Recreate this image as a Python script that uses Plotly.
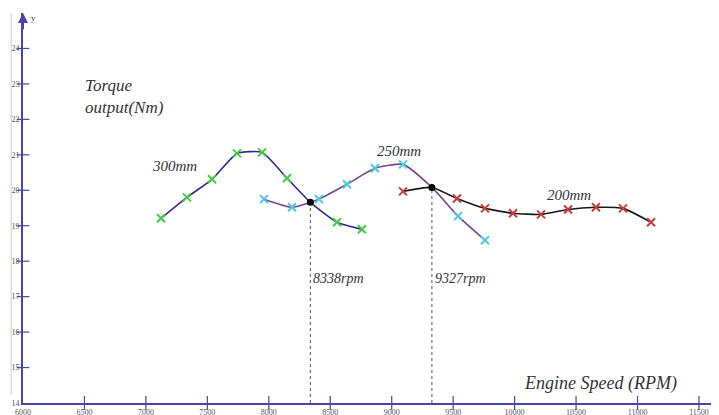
import plotly.graph_objects as go

# ---- data ----
rpm_300 = [7123, 7334, 7538, 7741, 7945, 8148, 8555, 8758]
tq_300 = [19.21, 19.80, 20.31, 21.04, 21.07, 20.34, 19.10, 18.90]

rpm_250 = [7961, 8189, 8408, 8636, 8864, 9092, 9540, 9759]
tq_250 = [19.75, 19.52, 19.75, 20.17, 20.62, 20.73, 19.27, 18.59]

rpm_200 = [9092, 9531, 9759, 9987, 10215, 10435, 10662, 10882, 11110]
tq_200 = [19.97, 19.77, 19.49, 19.35, 19.32, 19.46, 19.52, 19.49, 19.10]

cross_rpm = [8338, 9327]
cross_tq = [19.66, 20.08]
cross_labels = ["8338rpm", "9327rpm"]

x_ticks = [6000, 6500, 7000, 7500, 8000, 8500, 9000, 9500, 10000, 10500, 11000, 11500]
y_ticks = [14, 15, 16, 17, 18, 19, 20, 21, 22, 23, 24]

series_names = ["300mm", "250mm", "200mm"]

AXIS = "#4646a6"
SERIF = "Liberation Serif"


def merged(xs, ys, extra):
    pts = list(zip(xs, ys)) + [(cross_rpm[i], cross_tq[i]) for i in extra]
    pts.sort()
    return [p[0] for p in pts], [p[1] for p in pts]


fig = go.Figure()

series = [
    (rpm_300, tq_300, [0], "#2e2e8e", "#44cc44"),
    (rpm_250, tq_250, [0, 1], "#7d4394", "#4cc9e0"),
    (rpm_200, tq_200, [1], "#1a1a1a", "#cc3a3a"),
]

for xs, ys, extra, lc, mc in series:
    lx, ly = merged(xs, ys, extra)
    fig.add_trace(go.Scatter(x=lx, y=ly, mode="lines",
                             line=dict(color=lc, width=1.6, shape="spline", smoothing=0.5),
                             hoverinfo="skip", showlegend=False))
    fig.add_trace(go.Scatter(x=xs, y=ys, mode="markers",
                             marker=dict(symbol="x-thin", size=8, color=mc,
                                         line=dict(width=2, color=mc)),
                             showlegend=False))

# dotted drop lines and crossing points
for cx, cy in zip(cross_rpm, cross_tq):
    fig.add_trace(go.Scatter(x=[cx, cx], y=[y_ticks[0], cy], mode="lines",
                             line=dict(color="#555555", width=1, dash="dot"),
                             showlegend=False, hoverinfo="skip"))
fig.add_trace(go.Scatter(x=cross_rpm, y=cross_tq, mode="markers",
                         marker=dict(color="black", size=7), showlegend=False))

# crossing tick marks on axes
fig.add_trace(go.Scatter(x=[x_ticks[0]] * len(y_ticks[1:]), y=y_ticks[1:], mode="markers",
                         marker=dict(symbol="line-ew", size=9, color=AXIS,
                                     line=dict(color=AXIS, width=1.2)),
                         cliponaxis=False, showlegend=False, hoverinfo="skip"))
fig.add_trace(go.Scatter(x=x_ticks[1:], y=[y_ticks[0]] * len(x_ticks[1:]), mode="markers",
                         marker=dict(symbol="line-ns", size=10, color=AXIS,
                                     line=dict(color=AXIS, width=1.2)),
                         cliponaxis=False, showlegend=False, hoverinfo="skip"))

ann_font = dict(family=SERIF, size=15, color="#333333")
annotations = [
    dict(x=7233, y=20.68, text="<i>300mm</i>", showarrow=False, font=ann_font),
    dict(x=9063, y=21.10, text="<i>250mm</i>", showarrow=False, font=ann_font),
    dict(x=10443, y=19.86, text="<i>200mm</i>", showarrow=False, font=ann_font),
    dict(x=6488, y=22.65, text="<i>Torque<br>output(Nm)</i>", showarrow=False,
         xanchor="left", align="left", font=dict(family=SERIF, size=17, color="#333333")),
    dict(x=10695, y=14.56, text="<i>Engine Speed (RPM)</i>", showarrow=False,
         font=dict(family=SERIF, size=18, color="#333333")),
    # axis arrow
    dict(x=6000, y=25, ax=6000, ay=24.5, xref="x", yref="y", axref="x", ayref="y",
         text="", showarrow=True, arrowhead=2, arrowsize=1, arrowwidth=2,
         arrowcolor=AXIS),
    dict(x=6000, y=24.85, text="y", showarrow=False, xanchor="left", xshift=6,
         font=dict(family=SERIF, size=9, color="#333333")),
]
for cx, lab in zip(cross_rpm, cross_labels):
    annotations.append(dict(x=cx, y=17.52, text="<i>" + lab + "</i>", showarrow=False,
                            xanchor="left", xshift=1,
                            font=dict(family=SERIF, size=14, color="#333333")))

# the page body adds an 8px margin, so the figure is sized to fit the window
fig.update_layout(
    width=711, height=407,
    margin=dict(l=15, r=0, t=5, b=12, autoexpand=False),
    paper_bgcolor="white", plot_bgcolor="white",
    annotations=annotations,
    shapes=[dict(type="line", xref="paper", yref="paper", x0=-0.017, x1=-0.017,
                 y0=0.02, y1=1.0, line=dict(color="#cccccc", width=1))],
    xaxis=dict(range=[6000, 11663], tickvals=x_ticks, ticktext=[str(v) for v in x_ticks],
               showgrid=False, zeroline=False, showline=True, linecolor=AXIS, linewidth=2,
               ticks="", automargin=False, ticklabelstandoff=0,
               tickfont=dict(family=SERIF, size=8, color="#555555")),
    yaxis=dict(range=[14, 25], tickvals=y_ticks, ticktext=[str(v) for v in y_ticks],
               showgrid=False, zeroline=False, showline=True, linecolor=AXIS, linewidth=2,
               ticks="", automargin=False, ticklabelstandoff=0,
               tickfont=dict(family=SERIF, size=8, color="#555555")),
)

fig.write_html("out.html")
